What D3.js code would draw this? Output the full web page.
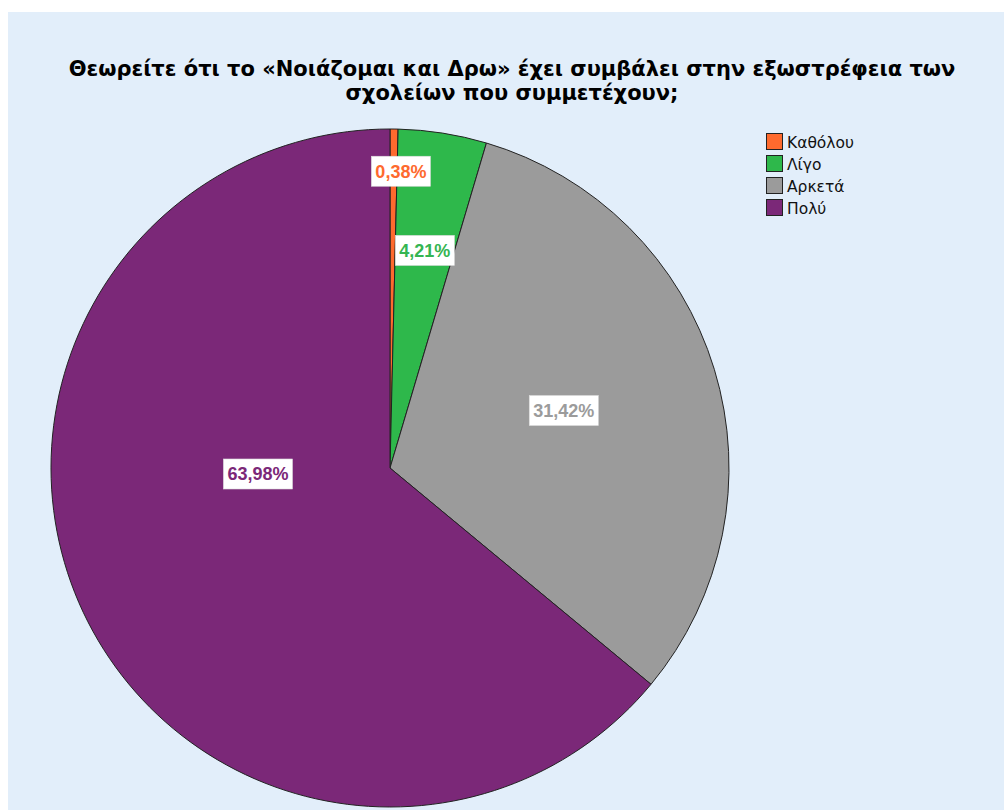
<!DOCTYPE html>
<html>
<head>
<meta charset="utf-8">
<script src="https://cdn.jsdelivr.net/npm/d3@7/dist/d3.min.js"></script>
<style>
html,body{margin:0;padding:0;background:#ffffff;}
svg{display:block;}
</style>
</head>
<body>
<svg id="chart" width="1004" height="810"></svg>
<script>
// ---- data ----
const titleLines = ["Θεωρείτε ότι το «Νοιάζομαι και Δρω» έχει συμβάλει στην εξωστρέφεια των", "σχολείων που συμμετέχουν;"];
const categories = ["Καθόλου", "Λίγο", "Αρκετά", "Πολύ"];
const values = [0.38, 4.21, 31.42, 63.98];
const valueLabels = ["0,38%", "4,21%", "31,42%", "63,98%"];

// ---- styling / layout (not data) ----
const fills = ["#fe6a2e", "#2eb84b", "#9b9b9b", "#7b2878"];
const labelColors = ["#fe6a2e", "#35b552", "#9b9b9b", "#7b2878"];
// label placement: fraction of radius and angle (degrees clockwise from top)
const labelRadiusFrac = [0.876, 0.65, 0.54, 0.39];
const labelAngleDeg = [2.1, 9.1, 71.7, 267.4];

const W = 1004, H = 810;
const svg = d3.select("#chart");

svg.append("rect").attr("x", 8).attr("y", 12).attr("width", W - 8).attr("height", H - 12)
  .attr("fill", "#e2eefa");

// title
svg.append("g").selectAll("text").data(titleLines).join("text")
  .attr("x", 512).attr("y", (d, i) => 76 + i * 24)
  .attr("text-anchor", "middle")
  .attr("font-family", "DejaVu Sans, Verdana, sans-serif")
  .attr("font-weight", "bold").attr("font-size", 21)
  .attr("fill", "#000")
  .text(d => d);

// pie
const cx = 390, cy = 468, R = 339;
const pie = d3.pie().sort(null).value(d => d)(values);
const arc = d3.arc().innerRadius(0).outerRadius(R);
const g = svg.append("g").attr("transform", `translate(${cx},${cy})`);
g.selectAll("path").data(pie).join("path")
  .attr("d", arc)
  .attr("fill", (d, i) => fills[i])
  .attr("stroke", "#222").attr("stroke-width", 1);

// labels
const lab = g.selectAll("g.lab").data(pie).join("g").attr("class", "lab")
  .attr("transform", (d, i) => {
    const a = labelAngleDeg[i] * Math.PI / 180, r = labelRadiusFrac[i] * R;
    return `translate(${r * Math.sin(a)},${-r * Math.cos(a)})`;
  });
lab.each(function(d, i) {
  const s = d3.select(this);
  const t = s.append("text")
    .attr("text-anchor", "middle").attr("dy", "0.36em")
    .attr("font-family", "Liberation Sans, Arial, sans-serif")
    .attr("font-weight", "bold").attr("font-size", 18)
    .attr("fill", labelColors[i])
    .text(valueLabels[i]);
  const bb = t.node().getBBox();
  s.insert("rect", "text")
    .attr("x", bb.x - 4).attr("y", -15).attr("width", bb.width + 8).attr("height", 30)
    .attr("fill", "#ffffff").attr("stroke", "#dddddd").attr("stroke-width", 0.6);
});

// legend
const legend = svg.append("g").attr("transform", "translate(766,133)");
const items = legend.selectAll("g").data(categories).join("g")
  .attr("transform", (d, i) => `translate(0,${i * 22})`);
items.append("rect").attr("x", 0.5).attr("y", 0.5).attr("width", 16).attr("height", 16)
  .attr("fill", (d, i) => fills[i]).attr("stroke", "#222").attr("stroke-width", 1);
items.append("text").attr("x", 21).attr("y", 9).attr("dy", "0.36em")
  .attr("font-family", "DejaVu Sans, Verdana, sans-serif").attr("font-size", 15.5)
  .attr("fill", "#111").text(d => d);
</script>
</body>
</html>
